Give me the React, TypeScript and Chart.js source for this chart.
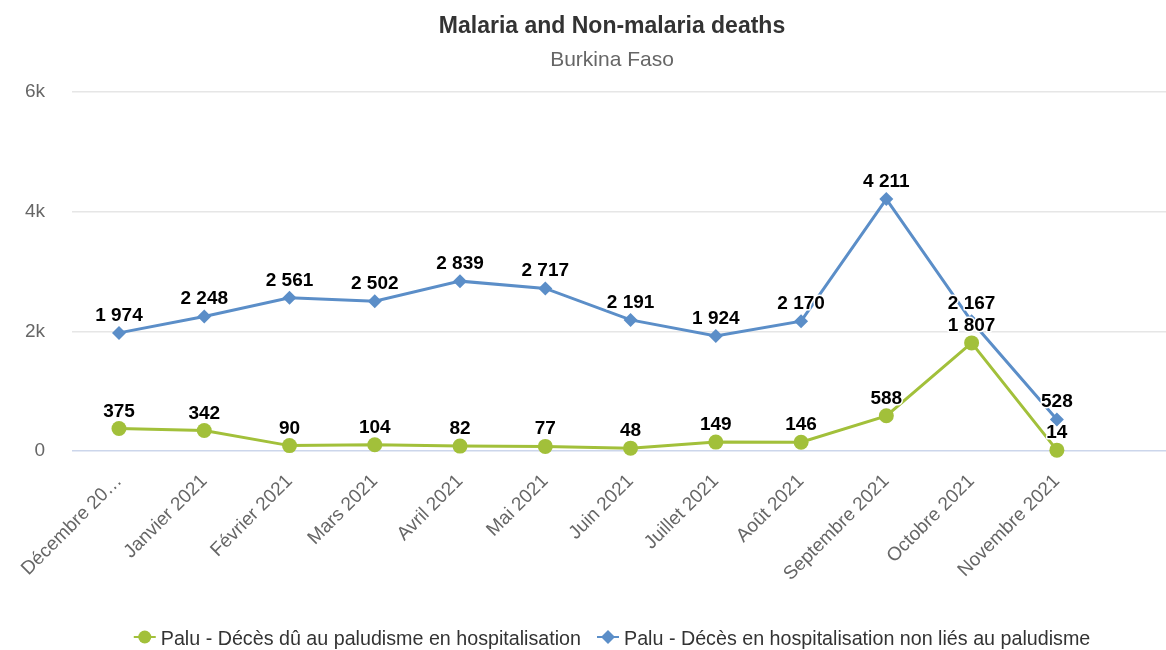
import React, { useEffect, useRef } from "react";
import { Chart, registerables } from "chart.js";
Chart.register(...registerables);

const categories = [
  "Décembre 20…",
  "Janvier 2021",
  "Février 2021",
  "Mars 2021",
  "Avril 2021",
  "Mai 2021",
  "Juin 2021",
  "Juillet 2021",
  "Août 2021",
  "Septembre 2021",
  "Octobre 2021",
  "Novembre 2021",
];
const malariaDeaths = [375, 342, 90, 104, 82, 77, 48, 149, 146, 588, 1807, 14];
const nonMalariaDeaths = [1974, 2248, 2561, 2502, 2839, 2717, 2191, 1924, 2170, 4211, 2167, 528];
const yTickValues = [0, 2000, 4000, 6000];
const yTickLabels = ["0", "2k", "4k", "6k"];
const seriesNames = [
  "Palu - Décès dû au paludisme en hospitalisation",
  "Palu - Décès en hospitalisation non liés au paludisme",
];
const chartTitle = "Malaria and Non-malaria deaths";
const chartSubtitle = "Burkina Faso";

const FONT = '"Liberation Sans", Arial, Helvetica, sans-serif';
const GREEN = "#a2c03a";
const BLUE = "#5b8ec8";
const COLORS = [GREEN, BLUE];
const STYLES = ["circle", "diamond"];

function fmt(n: number): string {
  return String(n).replace(/\B(?=(\d{3})+(?!\d))/g, " ");
}

const headerLegendPlugin = {
  id: "headerLegend",
  afterDraw(chart: any) {
    const ctx = chart.ctx;
    const cx = 612;
    ctx.save();
    ctx.textAlign = "center";
    ctx.textBaseline = "alphabetic";
    ctx.fillStyle = "#333333";
    ctx.font = `bold 23px ${FONT}`;
    ctx.fillText(chartTitle, cx, 33);
    ctx.fillStyle = "#666666";
    ctx.font = `21px ${FONT}`;
    ctx.fillText(chartSubtitle, cx, 66);

    // legend
    ctx.font = `19.7px ${FONT}`;
    const symW = 22;
    const gap = 5;
    const itemGap = 16;
    const widths = seriesNames.map((s) => ctx.measureText(s).width);
    const total = widths.reduce((a, w) => a + symW + gap + w, 0) + itemGap * (seriesNames.length - 1);
    let x = cx - total / 2;
    const y = 637;
    seriesNames.forEach((name, i) => {
      ctx.strokeStyle = COLORS[i];
      ctx.fillStyle = COLORS[i];
      ctx.lineWidth = 2;
      ctx.beginPath();
      ctx.moveTo(x, y);
      ctx.lineTo(x + symW, y);
      ctx.stroke();
      const mx = x + symW / 2;
      ctx.beginPath();
      if (STYLES[i] === "circle") {
        ctx.arc(mx, y, 6.5, 0, Math.PI * 2);
      } else {
        ctx.moveTo(mx, y - 7);
        ctx.lineTo(mx + 7, y);
        ctx.lineTo(mx, y + 7);
        ctx.lineTo(mx - 7, y);
        ctx.closePath();
      }
      ctx.fill();
      ctx.fillStyle = "#333333";
      ctx.textAlign = "left";
      ctx.fillText(name, x + symW + gap, 645);
      x += symW + gap + widths[i] + itemGap;
    });
    ctx.restore();
  },
};

const dataLabelPlugin = {
  id: "dataLabels",
  afterDatasetsDraw(chart: any) {
    const ctx = chart.ctx;
    ctx.save();
    ctx.font = `bold 19px ${FONT}`;
    ctx.textAlign = "center";
    ctx.textBaseline = "alphabetic";
    ctx.lineJoin = "round";
    chart.data.datasets.forEach((ds: any, i: number) => {
      const meta = chart.getDatasetMeta(i);
      meta.data.forEach((pt: any, j: number) => {
        const v = ds.data[j].y;
        const t = fmt(v);
        const px = pt.x;
        const py = pt.y - 12;
        ctx.strokeStyle = "#ffffff";
        ctx.lineWidth = 3;
        ctx.strokeText(t, px, py);
        ctx.fillStyle = "#000000";
        ctx.fillText(t, px, py);
      });
    });
    ctx.restore();
  },
};

export default function App() {
  const ref = useRef<HTMLCanvasElement>(null);
  useEffect(() => {
    const chart = new Chart(ref.current as HTMLCanvasElement, {
      type: "line",
      data: {
        datasets: [
          {
            label: seriesNames[0],
            data: malariaDeaths.map((v, i) => ({ x: i, y: v })),
            borderColor: GREEN,
            backgroundColor: GREEN,
            borderWidth: 3,
            pointStyle: "circle",
            pointRadius: 7.5,
            pointBorderWidth: 0,
            pointBackgroundColor: GREEN,
            clip: false,
            order: 1,
          },
          {
            label: seriesNames[1],
            data: nonMalariaDeaths.map((v, i) => ({ x: i, y: v })),
            borderColor: BLUE,
            backgroundColor: BLUE,
            borderWidth: 3,
            pointStyle: "rectRot",
            pointRadius: 7,
            pointBorderWidth: 0,
            pointBackgroundColor: BLUE,
            clip: false,
            order: 0,
          },
        ],
      } as any,
      options: {
        animation: false,
        responsive: false,
        maintainAspectRatio: false,
        devicePixelRatio: 1,
        layout: { autoPadding: false, padding: { top: 92, bottom: 39, left: 0, right: 0 } },
        plugins: {
          legend: { display: false },
          title: { display: false },
          tooltip: { enabled: false },
        },
        scales: {
          x: {
            type: "linear",
            min: -0.551,
            max: 12.28,
            afterBuildTicks: (s: any) => {
              s.ticks = categories.map((_, i) => ({ value: i }));
            },
            afterFit: (s: any) => {
              s.height = 160;
              s.paddingLeft = 0;
              s.paddingRight = 0;
            },
            ticks: {
              callback: (v: any) => categories[v] ?? "",
              autoSkip: false,
              maxRotation: 45,
              minRotation: 45,
              padding: 11,
              color: "#666666",
              font: { family: FONT, size: 19 },
            },
            grid: { display: false },
            border: { display: false },
          },
          y: {
            min: 0,
            max: 6000,
            afterBuildTicks: (s: any) => {
              s.ticks = yTickValues.map((v) => ({ value: v }));
            },
            afterFit: (s: any) => {
              s.width = 72;
            },
            ticks: {
              callback: (v: any) => yTickLabels[yTickValues.indexOf(v)] ?? "",
              padding: 27,
              color: "#666666",
              font: { family: FONT, size: 19 },
            },
            grid: {
              drawTicks: false,
              color: (c: any) => (c.tick && c.tick.value === 0 ? "#ccd6eb" : "#e6e6e6"),
              lineWidth: 1.5,
            },
            border: { display: false },
          },
        },
      } as any,
      plugins: [dataLabelPlugin, headerLegendPlugin],
    });
    return () => chart.destroy();
  }, []);
  return (
    <div style={{ position: "absolute", left: 0, top: 0, width: 1166, height: 650, overflow: "hidden" }}>
      <canvas ref={ref} width={1166} height={650} style={{ display: "block", width: 1166, height: 650 }} />
    </div>
  );
}
